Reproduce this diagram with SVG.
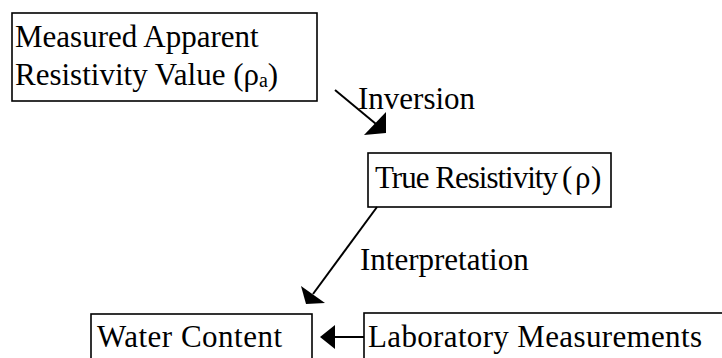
<svg xmlns="http://www.w3.org/2000/svg" width="722" height="358" viewBox="0 0 722 358">
<style>
.box{fill:#fff;stroke:#000;stroke-width:1.6}
.t{font-family:"Liberation Serif","Times New Roman",serif;font-size:31px;fill:#000}
.c{stroke:#000;stroke-width:2;fill:none}
.h{fill:#000;stroke:none}
</style>
<rect width="722" height="358" fill="#fff"/>
<g id="measured">
<rect class="box" x="12" y="13" width="305" height="88"/>
<text class="t" x="15" y="47">Measured Apparent</text>
<text class="t" x="15" y="85">Resistivity Value (ρ<tspan font-size="20" dy="2">a</tspan><tspan dy="-2">)</tspan></text>
</g>
<g id="true">
<rect class="box" x="368" y="153" width="243" height="54"/>
<text class="t" x="375" y="188"><tspan textLength="183" lengthAdjust="spacing">True Resistivity</tspan><tspan x="562">(</tspan><tspan x="575">ρ</tspan><tspan x="591">)</tspan></text>
</g>
<g id="water">
<rect class="box" x="91" y="314" width="221" height="60"/>
<text class="t" x="97" y="347" textLength="185" lengthAdjust="spacing">Water Content</text>
</g>
<g id="lab">
<rect class="box" x="364" y="313" width="380" height="60"/>
<text class="t" x="368" y="347" textLength="334" lengthAdjust="spacing">Laboratory Measurements</text>
</g>
<g id="connectors">
<line class="c" x1="335" y1="90" x2="376" y2="124"/>
<polygon class="h" points="364,135 386,112 386,133"/>
<text class="t" x="358" y="109">Inversion</text>
<line class="c" x1="377" y1="207" x2="313" y2="294"/>
<polygon class="h" points="301,286 325,303 306,304"/>
<text class="t" x="360" y="270">Interpretation</text>
<line class="c" x1="334" y1="337" x2="364" y2="337"/>
<polygon class="h" points="320,337 335,325 335,349"/>
</g>
</svg>
